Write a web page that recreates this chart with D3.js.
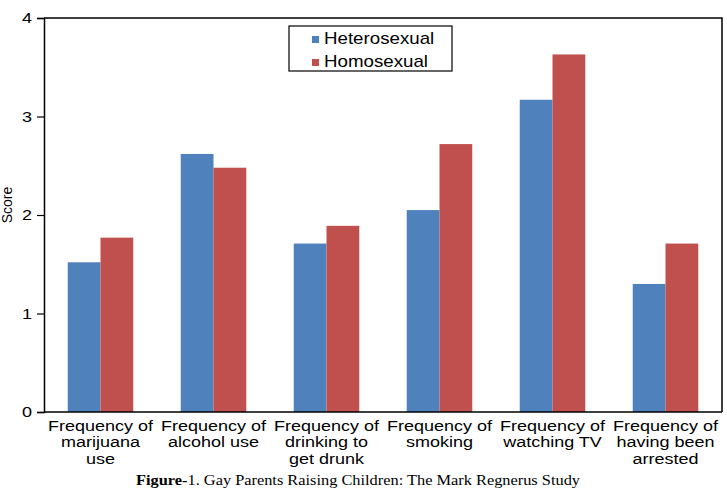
<!DOCTYPE html>
<html>
<head>
<meta charset="utf-8">
<script src="https://cdn.jsdelivr.net/npm/d3@7"></script>
<style>
  body { margin: 0; background: #fff; }
  svg { display: block; }
  text { fill: #000; }
</style>
</head>
<body>
<div id="chart"></div>
<script>
// categories (one array of lines per category)
var categories = [
    ['Frequency of', 'marijuana', 'use'],
    ['Frequency of', 'alcohol use'],
    ['Frequency of', 'drinking to', 'get drunk'],
    ['Frequency of', 'smoking'],
    ['Frequency of', 'watching TV'],
    ['Frequency of', 'having been', 'arrested']
];
var seriesNames = ['Heterosexual', 'Homosexual'];
var heterosexual = [1.52, 2.62, 1.71, 2.05, 3.17, 1.30];
var homosexual = [1.77, 2.48, 1.89, 2.72, 3.63, 1.71];
var yTicks = [0, 1, 2, 3, 4];
var caption = 'Gay Parents Raising Children: The Mark Regnerus Study';

var colors = ['#4F81BD', '#C0504D'];
var sans = '"Liberation Sans", Arial, sans-serif';
var serif = '"Liberation Serif", "Times New Roman", serif';

var svgWidth = 727;
var svgHeight = 492;
var margin = { top: 18, right: 5, bottom: 80, left: 44 };
var chartWidth = svgWidth - margin.left - margin.right;
var chartHeight = svgHeight - margin.top - margin.bottom;
var stretch = 1.2; // the picture's text is a bit wider than normal

var svg = d3.select('#chart').append('svg')
    .attr('width', svgWidth)
    .attr('height', svgHeight);

var chartGroup = svg.append('g')
    .attr('transform', `translate(${margin.left},${margin.top})`);

var idx = d3.range(categories.length);

var xScale = d3.scaleBand()
    .domain(idx)
    .range([0, chartWidth])
    .paddingInner(0.42)
    .paddingOuter(0.21);

var xSub = d3.scaleBand()
    .domain([0, 1])
    .range([0, xScale.bandwidth()]);

var yScale = d3.scaleLinear()
    .domain([0, 4])
    .range([chartHeight, 0]);

// bars
var data = idx.map(i => [heterosexual[i], homosexual[i]]);
var groups = chartGroup.append('g').selectAll('g')
    .data(data)
    .enter()
    .append('g')
    .attr('transform', (d, i) => `translate(${xScale(i)},0)`);

groups.selectAll('rect')
    .data(d => d)
    .enter()
    .append('rect')
    .attr('x', (d, j) => xSub(j))
    .attr('y', d => yScale(d))
    .attr('width', xSub.bandwidth())
    .attr('height', d => chartHeight - yScale(d))
    .attr('fill', (d, j) => colors[j]);

// frame
chartGroup.append('path')
    .attr('d', `M0,0H${chartWidth}V${chartHeight}`)
    .attr('fill', 'none')
    .attr('stroke', '#000')
    .attr('stroke-width', 1.5);

// y axis
var leftAxis = d3.axisLeft(yScale).tickValues(yTicks).tickSize(7).tickPadding(10).tickFormat(d3.format('d'));
var yAxisG = chartGroup.append('g').call(leftAxis);
yAxisG.select('.domain').attr('stroke', '#000').attr('stroke-width', 1.5);
yAxisG.selectAll('.tick line').attr('stroke', '#000').attr('stroke-width', 1.2);
yAxisG.selectAll('.tick text')
    .style('font-family', sans)
    .style('font-size', '15px')
    .attr('fill', '#000')
    .attr('x', null)
    .attr('dy', null)
    .attr('dominant-baseline', 'central')
    .attr('transform', `translate(-12,0) scale(${stretch},1)`);

// x axis
chartGroup.append('line')
    .attr('x1', 0).attr('x2', chartWidth)
    .attr('y1', chartHeight).attr('y2', chartHeight)
    .attr('stroke', '#000').attr('stroke-width', 1.5);

var xLabels = chartGroup.append('g').selectAll('g')
    .data(categories)
    .enter()
    .append('g')
    .attr('transform', (d, i) => `translate(${xScale(i) + xScale.bandwidth() / 2},${chartHeight + 19}) scale(${stretch},1)`);

xLabels.selectAll('text')
    .data(d => d)
    .enter()
    .append('text')
    .attr('text-anchor', 'middle')
    .attr('y', (d, k) => k * 16.5)
    .style('font-family', sans)
    .style('font-size', '15px')
    .text(d => d);

// y label
svg.append('text')
    .attr('transform', `translate(12,${margin.top + yScale(2) - 10}) rotate(-90)`)
    .attr('text-anchor', 'middle')
    .style('font-family', sans)
    .style('font-size', '14px')
    .text('Score');

// legend
var legend = svg.append('g').attr('transform', 'translate(289,26)');
legend.append('rect')
    .attr('width', 163).attr('height', 45)
    .attr('fill', '#fff').attr('stroke', '#000').attr('stroke-width', 1.2);

var legendItems = legend.selectAll('.item')
    .data(seriesNames)
    .enter()
    .append('g')
    .attr('class', 'item')
    .attr('transform', (d, i) => `translate(23,${10 + i * 23})`);

legendItems.append('rect')
    .attr('width', 7).attr('height', 7)
    .attr('fill', (d, i) => colors[i]);

legendItems.append('text')
    .attr('transform', `translate(12,7.5) scale(1.17,1)`)
    .style('font-family', sans)
    .style('font-size', '16px')
    .text(d => d);

// caption
var cap = svg.append('text')
    .attr('x', 136)
    .attr('y', 485)
    .style('font-family', serif)
    .style('font-size', '14px')
    .attr('textLength', 444)
    .attr('lengthAdjust', 'spacingAndGlyphs');
cap.append('tspan').attr('font-weight', 'bold').text('Figure-');
cap.append('tspan').text('1. ' + caption);
</script>
</body>
</html>
